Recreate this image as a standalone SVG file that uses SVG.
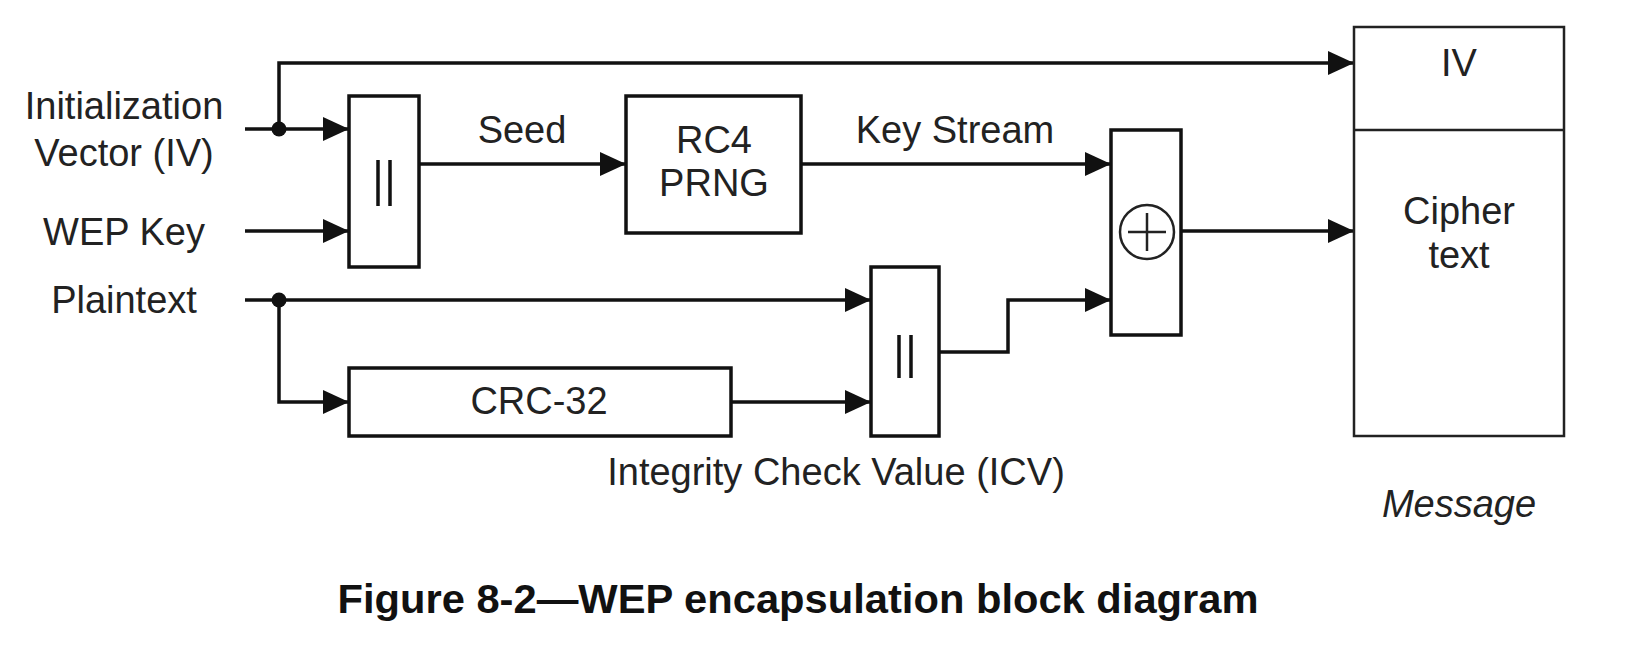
<svg xmlns="http://www.w3.org/2000/svg" width="1635" height="646" viewBox="0 0 1635 646">
<style>
.box{fill:#fff;stroke:#111;stroke-width:3.5}
.msg{fill:#fff;stroke:#222;stroke-width:2.5}
.bar{stroke:#111;stroke-width:3.5}
.wire{fill:none;stroke:#111;stroke-width:3.5;marker-end:url(#arr)}
.t{font-family:"Liberation Sans",Arial,sans-serif;font-size:38px;fill:#222;text-anchor:middle}
.title{font-family:"Liberation Sans",Arial,sans-serif;font-size:40px;font-weight:bold;fill:#111;text-anchor:middle}
</style>
<defs>
<marker id="arr" markerUnits="userSpaceOnUse" markerWidth="28" markerHeight="26" refX="26" refY="12" orient="auto">
<path d="M0,0 L26,12 L0,24 z" fill="#111"/>
</marker>
</defs>
<rect width="1635" height="646" fill="#fff"/>
<g id="connectors">
<path class="wire" d="M279,129 V63 H1354"/>
<path class="wire" d="M245,129 H349"/>
<path class="wire" d="M245,231 H349"/>
<path class="wire" d="M419,164 H626"/>
<path class="wire" d="M801,164 H1111"/>
<path class="wire" d="M245,300 H871"/>
<path class="wire" d="M279,300 V402 H349"/>
<path class="wire" d="M731,402 H871"/>
<path class="wire" d="M939,352 H1008 V300 H1111"/>
<path class="wire" d="M1181,231 H1354"/>
<circle cx="279" cy="129" r="7.5" fill="#111"/>
<circle cx="279" cy="300" r="7.5" fill="#111"/>
</g>
<g id="inputs">
<text class="t" x="124" y="119">Initialization</text>
<text class="t" x="124" y="166">Vector (IV)</text>
<text class="t" x="124" y="245">WEP Key</text>
<text class="t" x="124" y="313">Plaintext</text>
</g>
<g id="concat1">
<rect class="box" x="349" y="96" width="70" height="171"/>
<line class="bar" x1="378" y1="160" x2="378" y2="206"/>
<line class="bar" x1="390" y1="160" x2="390" y2="206"/>
</g>
<g id="seed-label"><text class="t" x="522" y="143">Seed</text></g>
<g id="rc4">
<rect class="box" x="626" y="96" width="175" height="137"/>
<text class="t" x="714" y="153">RC4</text>
<text class="t" x="714" y="196">PRNG</text>
</g>
<g id="keystream-label"><text class="t" x="955" y="143">Key Stream</text></g>
<g id="xor">
<rect class="box" x="1111" y="130" width="70" height="205"/>
<circle cx="1147" cy="232" r="27" fill="none" stroke="#222" stroke-width="2.5"/>
<line x1="1128" y1="232" x2="1166" y2="232" stroke="#222" stroke-width="2.5"/>
<line x1="1147" y1="213" x2="1147" y2="251" stroke="#222" stroke-width="2.5"/>
</g>
<g id="crc32">
<rect class="box" x="349" y="368" width="382" height="68"/>
<text class="t" x="539" y="414">CRC-32</text>
</g>
<g id="concat2">
<rect class="box" x="871" y="267" width="68" height="169"/>
<line class="bar" x1="899" y1="335" x2="899" y2="378"/>
<line class="bar" x1="911" y1="335" x2="911" y2="378"/>
</g>
<g id="icv-label"><text class="t" x="836" y="485">Integrity Check Value (ICV)</text></g>
<g id="message">
<rect class="msg" x="1354" y="27" width="210" height="409"/>
<line x1="1354" y1="130" x2="1564" y2="130" stroke="#222" stroke-width="2.5"/>
<text class="t" x="1459" y="76">IV</text>
<text class="t" x="1459" y="224">Cipher</text>
<text class="t" x="1459" y="268">text</text>
<text class="t" x="1459" y="517" font-style="italic">Message</text>
</g>
<g id="caption">
<text class="title" x="798" y="613" textLength="921" lengthAdjust="spacingAndGlyphs">Figure 8-2—WEP encapsulation block diagram</text>
</g>
</svg>
